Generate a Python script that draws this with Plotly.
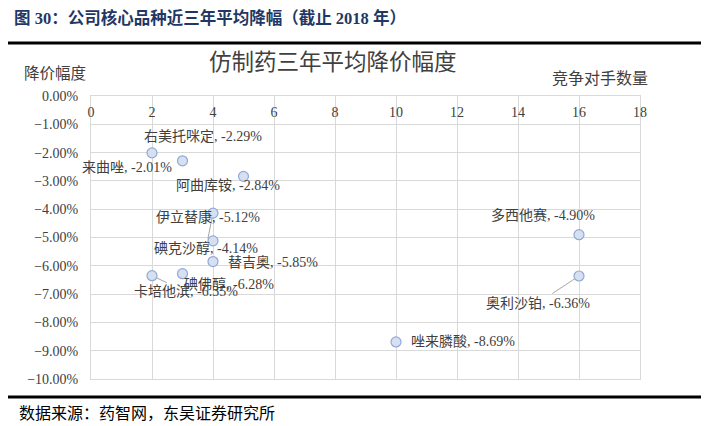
import plotly.graph_objects as go

# data
drugs = ["来曲唑", "右美托咪定", "阿曲库铵", "碘克沙醇", "伊立替康", "替吉奥",
         "卡培他滨", "碘佛醇", "多西他赛", "奥利沙铂", "唑来膦酸"]
competitors = [2, 3, 5, 4, 4, 4, 2, 3, 16, 16, 10]
decline_pct = [-2.01, -2.29, -2.84, -4.14, -5.12, -5.85, -6.35, -6.28, -4.90, -6.36, -8.69]

x_ticks = list(range(0, 19, 2))

# the page body adds an 8px margin, so the figure is drawn 8px smaller and
# every position below is the reference pixel minus 8
OFF = 8
W, H = 709 - OFF, 426 - OFF
L, R, T, B = 91 - OFF, 640 - OFF, 96 - OFF, 379 - OFF   # plot area

SERIF = "Liberation Serif, Noto Sans CJK SC, serif"
GRID = "#D9D9D9"
TXT = "#404040"


def px(x):
    return (x - OFF - L) / (R - L)


def py(y):
    return (B - (y - OFF)) / (B - T)


# label placement (pixel offsets from the marker), leader line or not
label_pos = {
    "来曲唑": (-25, 15, False),
    "右美托咪定": (20, -24, False),
    "阿曲库铵": (-16, 9, False),
    "碘克沙醇": (-7, 35, True),
    "伊立替康": (-5, -24, False),
    "替吉奥": (60, 0, False),
    "卡培他滨": (34, 16, True),
    "碘佛醇": (46, 10, False),
    "多西他赛": (-36, -20, False),
    "奥利沙铂": (-41, 27, True),
    "唑来膦酸": (67, 0, False),
}

fig = go.Figure(go.Scatter(
    x=competitors, y=decline_pct, mode="markers",
    marker=dict(size=10, color="#D6E0F1", line=dict(color="#8FAAD6", width=1.2)),
    hoverinfo="skip", showlegend=False,
))

annotations = []
for name, cx, cy in zip(drugs, competitors, decline_pct):
    dx, dy, leader = label_pos[name]
    text = f"{name}, {cy:.2f}%"
    if leader:
        annotations.append(dict(
            x=cx, y=cy, xref="x", yref="y", text=text, showarrow=True,
            ax=dx, ay=dy, arrowhead=0, arrowwidth=1, arrowcolor="#A6A6A6",
            standoff=5, font=dict(family=SERIF, size=14, color=TXT)))
    else:
        annotations.append(dict(
            x=cx, y=cy, xref="x", yref="y", text=text, showarrow=False,
            xshift=dx, yshift=-dy, font=dict(family=SERIF, size=14, color=TXT)))


def paper_text(x, y, text, size, color=TXT, anchor="left"):
    return dict(x=px(x), y=py(y), xref="paper", yref="paper", xanchor=anchor, yanchor="middle",
                text=text, showarrow=False, font=dict(family=SERIF, size=size, color=color))


annotations += [
    paper_text(12, 18, "<b>图 30：公司核心品种近三年平均降幅（截止 2018 年）</b>", 16.5, "#1F3864"),
    paper_text(333, 62, "仿制药三年平均降价幅度", 22.5, anchor="center"),
    paper_text(22, 73, "降价幅度", 15.5),
    paper_text(650, 78, "竞争对手数量", 16, anchor="right"),
    paper_text(17, 413, "数据来源：药智网，东吴证券研究所", 16, "#000000"),
]

fig.update_layout(
    width=W, height=H,
    margin=dict(l=L, r=W - R, t=T, b=H - B),
    paper_bgcolor="white", plot_bgcolor="white",
    font=dict(family=SERIF, size=14, color=TXT),
    xaxis=dict(range=[0, 18], tickvals=x_ticks, side="top", ticklabelposition="inside",
               ticklabeloverflow="allow", ticklabelstandoff=11,
               showgrid=True, gridcolor=GRID, gridwidth=1, zeroline=False,
               showline=True, linecolor=GRID, mirror=True, ticks="", automargin=False,
               tickfont=dict(size=14, color=TXT)),
    yaxis=dict(range=[-10, 0], dtick=1, tickformat=".2f", ticksuffix="%",
               ticklabeloverflow="allow", ticklabelstandoff=9,
               showgrid=True, gridcolor=GRID, gridwidth=1, zeroline=False,
               showline=True, linecolor=GRID, mirror=True, ticks="", automargin=False,
               tickfont=dict(size=14, color=TXT)),
    annotations=annotations,
    shapes=[
        dict(type="line", xref="paper", yref="paper", x0=px(5), x1=px(709), y0=py(43), y1=py(43),
             line=dict(color="black", width=3)),
        dict(type="line", xref="paper", yref="paper", x0=px(5), x1=px(709), y0=py(397), y1=py(397),
             line=dict(color="black", width=3)),
    ],
)

fig.write_html("out.html")
